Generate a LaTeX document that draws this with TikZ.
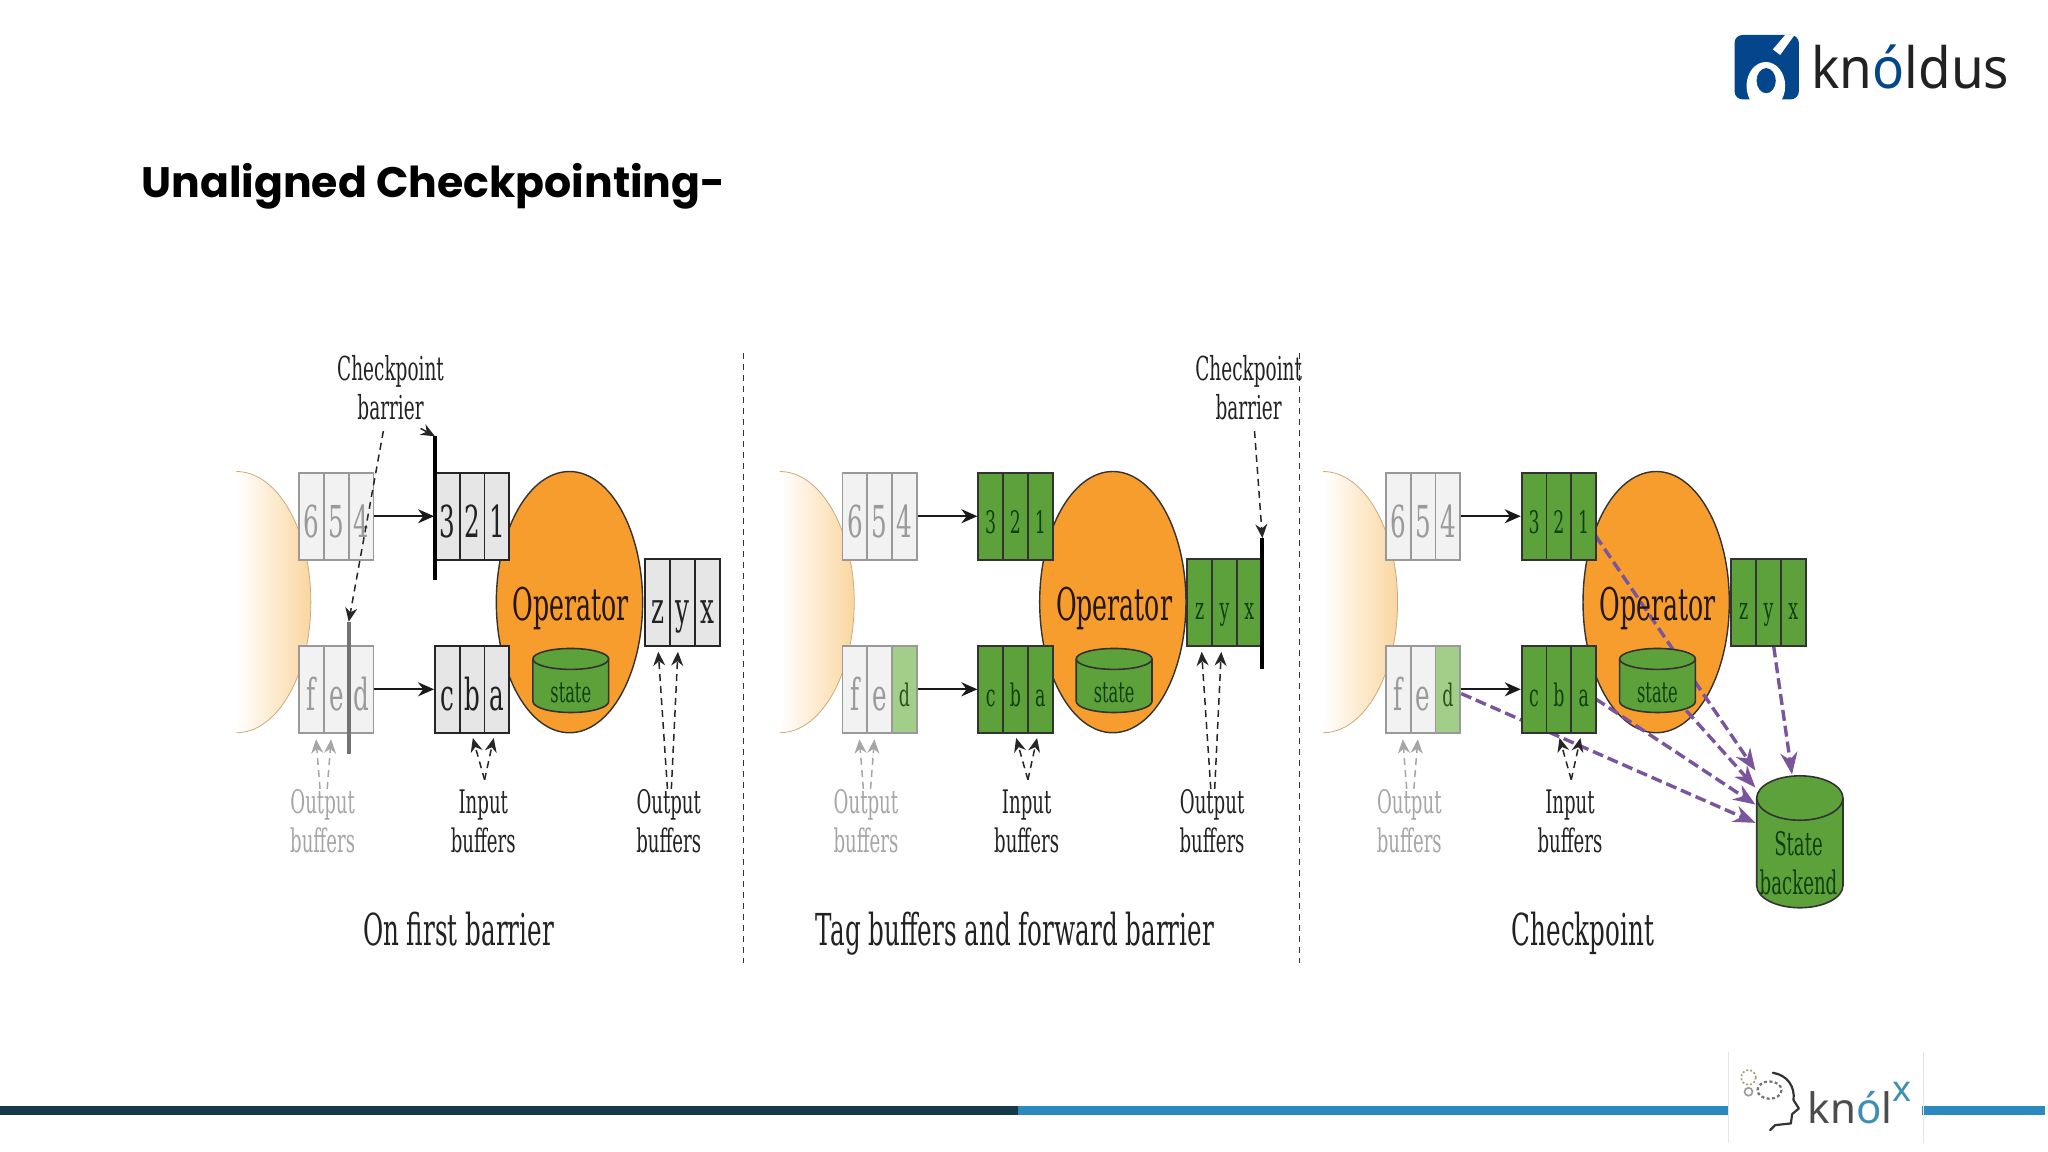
\documentclass[tikz,border=0pt]{standalone}
\usepackage{fontspec}
\usetikzlibrary{arrows.meta,shapes.geometric}
\newfontfamily\dsf[FakeStretch=0.56]{DejaVu Serif}
\newfontfamily\ttlf{Poppins}
\newfontfamily\logof{Noto Sans}
\newfontfamily\logofn[FakeStretch=0.93]{Noto Sans}
\newlength\uu \setlength\uu{0.653pt}
\definecolor{gfill}{HTML}{5DA13A}
\definecolor{gdark}{HTML}{123F12}
\definecolor{ofill}{HTML}{F79D2E}
\definecolor{cellg}{HTML}{E6E6E6}
\definecolor{fadeg}{HTML}{F2F2F2}
\definecolor{fadeline}{HTML}{999999}
\definecolor{fadetxt}{HTML}{9A9A9A}
\definecolor{tagg}{HTML}{A3CE8A}
\definecolor{purp}{HTML}{7A559E}
\definecolor{lblack}{HTML}{222222}
\definecolor{kblue}{HTML}{03468C}
\definecolor{barD}{HTML}{17394A}
\definecolor{barB}{HTML}{2A8ABF}
\definecolor{kteal}{HTML}{3D8FB5}
\definecolor{srcor}{HTML}{FAD6A0}
\tikzset{
 cellbase/.style={rectangle,inner sep=0pt,minimum width=19\uu,minimum height=66.5\uu,line width=.9pt,text depth=0pt},
 bigface/.style={font=\dsf\fontsize{22}{24}\selectfont,text height=21pt},
 smallface/.style={font=\dsf\fontsize{15.5}{17}\selectfont,text height=17pt},
 fadecell/.style={cellbase,bigface,draw=fadeline,fill=fadeg,text=fadetxt},
 darkcell/.style={cellbase,bigface,draw=black!85,fill=cellg,text=lblack},
 greencell/.style={cellbase,smallface,draw=black!80,fill=gfill,text=gdark},
 tagcell/.style={cellbase,smallface,draw=fadeline,fill=tagg,text=black!50!gfill},
 opshape/.style={ellipse,draw=black!80,fill=ofill,line width=.7pt,minimum width=112\uu,minimum height=200\uu,inner sep=0pt},
 optext/.style={anchor=base,inner sep=0pt,font=\dsf\fontsize{22.5}{24}\selectfont,text=black!85!ofill},
 lab/.style={anchor=base,font=\dsf\fontsize{16.2}{18}\selectfont,text=lblack,inner sep=0pt},
 cplab/.style={anchor=base,font=\dsf\fontsize{16.5}{18}\selectfont,text=lblack,inner sep=0pt},
 fadelab/.style={lab,text=black!35},
 captxt/.style={anchor=base,font=\dsf\fontsize{22}{24}\selectfont,text=lblack,inner sep=0pt},
 flow/.style={-{Stealth[length=8pt,width=7pt]},line width=1pt,draw=black!90},
 hint/.style={-{Stealth[length=7pt,width=6pt]},dash pattern=on 3.5pt off 2.5pt,line width=.75pt,draw=black!85},
 fadehint/.style={hint,draw=black!35},
 pline/.style={-{Stealth[length=11pt,width=8.5pt]},dash pattern=on 5.5pt off 2.5pt,line width=1.7pt,draw=purp},
 barrier/.style={line width=1.9pt,draw=black,line cap=butt},
 divider/.style={dash pattern=on 3pt off 2.5pt,line width=.6pt,draw=black!80},
}
\newcommand\trip[9]{%
 \begin{scope}[shift={(#2,#3)}]
  \node[#7] (#1l) at (9.5,33.25) {#4};
  \node[#8] (#1m) at (28.5,33.25) {#5};
  \node[#9] (#1r) at (47.5,33.25) {#6};
 \end{scope}}
\newcommand\source[2]{%
 \begin{scope}[shift={(#2,0)}]
  \shade[left color=white,right color=srcor,draw=none] (181,561) arc[start angle=90,end angle=-90,x radius=57,y radius=100] -- cycle;
  \draw[black!20!srcor,line width=.4pt] (181,561) arc[start angle=90,end angle=-90,x radius=57,y radius=100];
 \end{scope}}
\newcommand\statecyl[2]{%
 \draw[black!80,fill=gfill,line width=.8pt] (#2-29,504.5) -- (#2-29,537) arc[start angle=180,end angle=360,x radius=29,y radius=-8.5] -- (#2+29,504.5);
 \draw[black!80,fill=gfill,line width=.8pt] (#2,504.5) ellipse[x radius=29,y radius=8];
 \node[anchor=base,font=\dsf\fontsize{14.5}{16}\selectfont,text=gdark,inner sep=0pt] (#1st) at (#2,537.5) {state};}
\begin{document}
\begin{tikzpicture}[x=\uu,y=-\uu]
\useasboundingbox (0,0) rectangle (1568,882);
\fill[white] (0,0) rectangle (1568,882);

\node[anchor=base west,inner sep=0pt,font=\ttlf\bfseries\fontsize{21.3}{24}\selectfont] (title) at (108,151.5) {Unaligned Checkpointing-};

\source{a}{0}
\node[opshape] (aop) at (436,461) {};
\trip{a6}{229}{362}{6}{5}{4}{fadecell}{fadecell}{fadecell}
\trip{a3}{333}{362}{3}{2}{1}{darkcell}{darkcell}{darkcell}
\trip{af}{229}{494.5}{f}{e}{d}{fadecell}{fadecell}{fadecell}
\trip{ac}{333}{494.5}{c}{b}{a}{darkcell}{darkcell}{darkcell}
\trip{az}{494}{428}{z}{y}{x}{darkcell}{darkcell}{darkcell}
\node[optext] (aoptxt) at (437,475) {Operator};
\statecyl{a}{437}
\draw[flow] (a6r.east) -- (a3l.west);
\draw[flow] (afr.east) -- (acl.west);
\coordinate (ab1t) at (333,334); \coordinate (ab1b) at (333,444);
\coordinate (ab2t) at (267,476); \coordinate (ab2b) at (267,577);
\draw[barrier] (ab1t) -- (ab1b);
\draw[barrier,draw=black!55] (ab2t) -- (ab2b);
\node[cplab] (acp1) at (299,291) {Checkpoint};
\node[cplab] (acp2) at (299,321) {barrier};
\node[fadelab] (aol1) at (247,623) {Output};
\node[fadelab] (aol2) at (247,653) {buffers};
\node[lab] (ail1) at (370,623) {Input};
\node[lab] (ail2) at (370,653) {buffers};
\node[lab] (aor1) at (512,623) {Output};
\node[lab] (aor2) at (512,653) {buffers};
\node[captxt] (acap) at (351,724) {On first barrier};
\coordinate (aq1) at (293.5,330); \coordinate (aq2) at (322,328);
\draw[hint] (aq1) -- (ab2t);
\draw[hint] (aq2) -- (ab1t);
\draw[fadehint] (245,604) -- (242,566);
\draw[fadehint] (250.5,604) -- (253.5,566);
\draw[hint] (371,597) -- (362,565);
\draw[hint] (371,597) -- (378,565);
\draw[hint] (511,604) -- (504,499);
\draw[hint] (514,604) -- (519,499);
\draw[divider] (569.5,270) -- (569.5,737);

\source{b}{416}
\node[opshape] (bop) at (852,461) {};
\trip{b6}{645}{362}{6}{5}{4}{fadecell}{fadecell}{fadecell}
\trip{b3}{749}{362}{3}{2}{1}{greencell}{greencell}{greencell}
\trip{bf}{645}{494.5}{f}{e}{d}{fadecell}{fadecell}{tagcell}
\trip{bc}{749}{494.5}{c}{b}{a}{greencell}{greencell}{greencell}
\trip{bz}{909}{428}{z}{y}{x}{greencell}{greencell}{greencell}
\node[optext] (boptxt) at (853,475) {Operator};
\statecyl{b}{853}
\draw[flow] (b6r.east) -- (b3l.west);
\draw[flow] (bfr.east) -- (bcl.west);
\coordinate (bbt) at (966.5,412); \coordinate (bbb) at (966.5,512);
\draw[barrier] (bbt) -- (bbb);
\node[cplab] (bcp1) at (956,291) {Checkpoint};
\node[cplab] (bcp2) at (956,321) {barrier};
\node[fadelab] (bol1) at (663,623) {Output};
\node[fadelab] (bol2) at (663,653) {buffers};
\node[lab] (bil1) at (786,623) {Input};
\node[lab] (bil2) at (786,653) {buffers};
\node[lab] (bor1) at (928,623) {Output};
\node[lab] (bor2) at (928,653) {buffers};
\node[captxt] (bcap) at (777,724) {Tag buffers and forward barrier};
\coordinate (bq) at (960.5,330);
\draw[hint] (bq) -- (bbt);
\draw[fadehint] (661,604) -- (658,566);
\draw[fadehint] (666.5,604) -- (669.5,566);
\draw[hint] (787,597) -- (778,565);
\draw[hint] (787,597) -- (794,565);
\draw[hint] (927,604) -- (920,499);
\draw[hint] (930,604) -- (935,499);
\draw[divider] (995,270) -- (995,737);

\source{c}{832}
\node[opshape] (cop) at (1268,461) {};
\coordinate (cs1) at (1221.5,410); \coordinate (ce1) at (1344,590);
\coordinate (cs2) at (1291,544);   \coordinate (ce2) at (1344,603);
\coordinate (cs3) at (1221.5,535); \coordinate (ce3) at (1344,616);
\coordinate (cs4) at (1118.7,531); \coordinate (ce4) at (1344,630);
\coordinate (cs5) at (1358,495);   \coordinate (ce5) at (1372,593);
\draw[pline] (cs1) -- (ce1);
\draw[pline] (cs2) -- (ce2);
\draw[pline] (cs3) -- (ce3);
\draw[pline] (cs4) -- (ce4);
\draw[pline] (cs5) -- (ce5);
\trip{c6}{1061}{362}{6}{5}{4}{fadecell}{fadecell}{fadecell}
\trip{c3}{1165}{362}{3}{2}{1}{greencell}{greencell}{greencell}
\trip{cf}{1061}{494.5}{f}{e}{d}{fadecell}{fadecell}{tagcell}
\trip{cc}{1165}{494.5}{c}{b}{a}{greencell}{greencell}{greencell}
\trip{cz}{1325.5}{428}{z}{y}{x}{greencell}{greencell}{greencell}
\node[optext] (coptxt) at (1269,475) {Operator};
\statecyl{c}{1269}
\draw[flow] (c6r.east) -- (c3l.west);
\draw[flow] (cfr.east) -- (ccl.west);
\draw[black!80,fill=gfill,line width=.8pt] (1345,611) -- (1345,678) arc[start angle=180,end angle=360,x radius=33,y radius=-17] -- (1411,611);
\draw[black!80,fill=gfill,line width=.8pt] (1378,611) ellipse[x radius=33,y radius=17];
\node[lab,text=gdark] (cb1) at (1377,655) {State};
\node[lab,text=gdark] (cb2) at (1377,685) {backend};
\node[fadelab] (col1) at (1079,623) {Output};
\node[fadelab] (col2) at (1079,653) {buffers};
\node[lab] (cil1) at (1202,623) {Input};
\node[lab] (cil2) at (1202,653) {buffers};
\node[captxt] (ccap) at (1212,724) {Checkpoint};
\draw[fadehint] (1077,604) -- (1074,566);
\draw[fadehint] (1082.5,604) -- (1085.5,566);
\draw[hint] (1203,597) -- (1194,565);
\draw[hint] (1203,597) -- (1210,565);

\begin{scope}[x=0.5pt,y=-0.5pt]
\fill[barD] (0,1106) rectangle (1018,1115);
\fill[barB] (1018,1106) rectangle (1729,1115);
\fill[barB] (1922,1106) rectangle (2045,1115);
\begin{scope}[shift={(1700,10)},x=0.16667pt,y=-0.16667pt]
 \fill[kblue,rounded corners=4pt] (103,75) rectangle (296,268);
 \begin{scope}
  \clip (103,75) rectangle (296,268);
  \fill[white,even odd rule] (197,228) ellipse[x radius=58,y radius=72]
     (198,212) ellipse[x radius=29,y radius=38];
  \fill[white] (218,118) -- (255,75) -- (283,75) -- (240,135) -- cycle;
 \end{scope}
\end{scope}
\node[anchor=base west,inner sep=0pt,text=lblack,font=\logofn\fontsize{28.5}{32}\selectfont] (klogo) at (1811,88) {kn{\color{kblue}ó}ldus};
\begin{scope}[shift={(1700,1040)},x=0.16667pt,y=-0.16667pt]
 \draw[black!10,line width=.3pt] (85,35) -- (85,310);
 \draw[black!10,line width=.3pt] (668,35) -- (668,310);
 \draw[black!80,line width=1.1pt,line cap=round,line join=round] (218,98) .. controls (262,105) and (285,140) .. (280,180) -- (296,205) -- (276,222) -- (272,250) -- (225,255) -- (210,270);
 \draw[black!55,line width=1.1pt,dash pattern=on 1.5pt off 1.2pt] (208,150) ellipse[x radius=36,y radius=26];
 \draw[black!30!yellow!40!gray,line width=.8pt,dash pattern=on 1pt off 1pt] (145,112) circle[radius=22];
 \draw[black!40,line width=.8pt] (145,155) circle[radius=12];
 \node[anchor=base west,inner sep=0pt,text=black!70,font=\logof\fontsize{21}{24}\selectfont] (knolx) at (322,250) {kn{\color{kteal}ó}l};
 \node[anchor=base west,inner sep=0pt,text=kteal,font=\logof\bfseries\fontsize{18}{18}\selectfont] (knolxx) at (576,185) {x};
\end{scope}
\end{scope}
\end{tikzpicture}
\end{document}
